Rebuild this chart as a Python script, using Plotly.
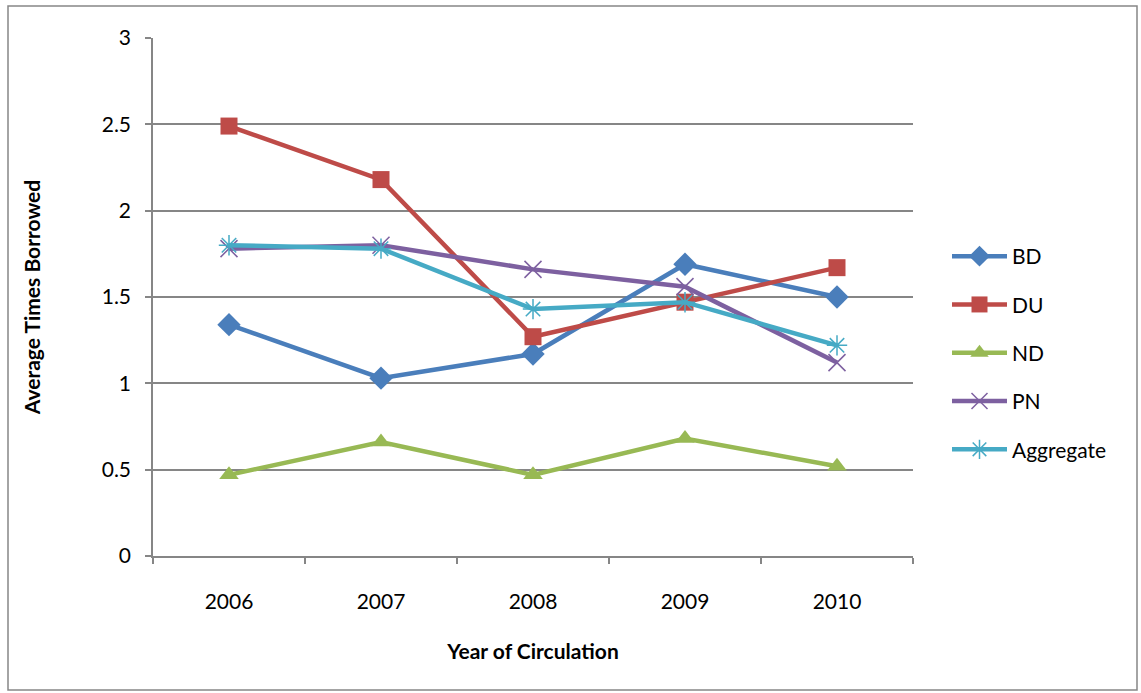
import plotly.graph_objects as go

years = ["2006", "2007", "2008", "2009", "2010"]
bd = [1.34, 1.03, 1.17, 1.69, 1.50]
du = [2.49, 2.18, 1.27, 1.47, 1.67]
nd = [0.47, 0.66, 0.47, 0.68, 0.52]
pn = [1.78, 1.80, 1.66, 1.56, 1.12]
agg = [1.80, 1.78, 1.43, 1.47, 1.22]

series = [
    ("BD", bd, "#4A7EBB", "diamond", 18, 0),
    ("DU", du, "#BE4B48", "square", 17, 0),
    ("ND", nd, "#98B954", "triangle-up", 17, 0),
    ("PN", pn, "#7D60A0", "x-thin-open", 17, 1.5),
    ("Aggregate", agg, "#46AAC5", "asterisk-open", 17, 1.5),
]

fig = go.Figure()
for name, vals, color, sym, size, mlw in series:
    fig.add_trace(go.Scatter(
        x=years, y=vals, name=name, mode="lines+markers", legendgroup=name,
        line=dict(color=color, width=4.5),
        marker=dict(symbol=sym, size=size, color=color,
                    line=dict(color=color, width=mlw if mlw else 0)),
    ))

W, H = 1141, 693
L, R, T, B = 153, 228, 38, 137
pw, ph = W - L - R, H - T - B

def px(x):
    return (x - L) / pw

def py(y):
    return (H - B - y) / ph

font = "Lato, 'Open Sans', sans-serif"
fig.update_layout(
    width=W, height=H,
    margin=dict(l=L, r=R, t=T, b=B),
    paper_bgcolor="white", plot_bgcolor="white",
    font=dict(family=font, size=21, color="#000000"),
    showlegend=True,
    legend=dict(x=px(947), y=py(236), xanchor="left", yanchor="top",
                font=dict(size=21), tracegroupgap=18, itemwidth=55,
                bgcolor="rgba(0,0,0,0)"),
    xaxis=dict(type="category", range=[-0.5, 4.5], tickson="boundaries",
               ticks="outside", ticklen=6, tickcolor="#868686", tickwidth=1.5,
               showline=True, linecolor="#868686", linewidth=1.5,
               showgrid=False, tickfont=dict(size=21), ticklabelstandoff=26,
               title=dict(text="<b>Year of Circulation</b>", font=dict(size=21), standoff=32)),
    yaxis=dict(range=[0, 3], dtick=0.5, ticks="outside", ticklen=6,
               tickcolor="#868686", tickwidth=1.5,
               showline=True, linecolor="#868686", linewidth=1.5,
               showgrid=True, gridcolor="#868686", gridwidth=1.5,
               zeroline=False, tickfont=dict(size=21), ticklabelstandoff=10,
               title=dict(text="<b>Average Times Borrowed</b>", font=dict(size=21), standoff=55)),
    shapes=[dict(type="rect", xref="paper", yref="paper",
                 x0=px(8), x1=px(1137), y0=py(690), y1=py(6),
                 line=dict(color="#868686", width=1.5), fillcolor="rgba(0,0,0,0)")],
)

fig.write_html("out.html")
